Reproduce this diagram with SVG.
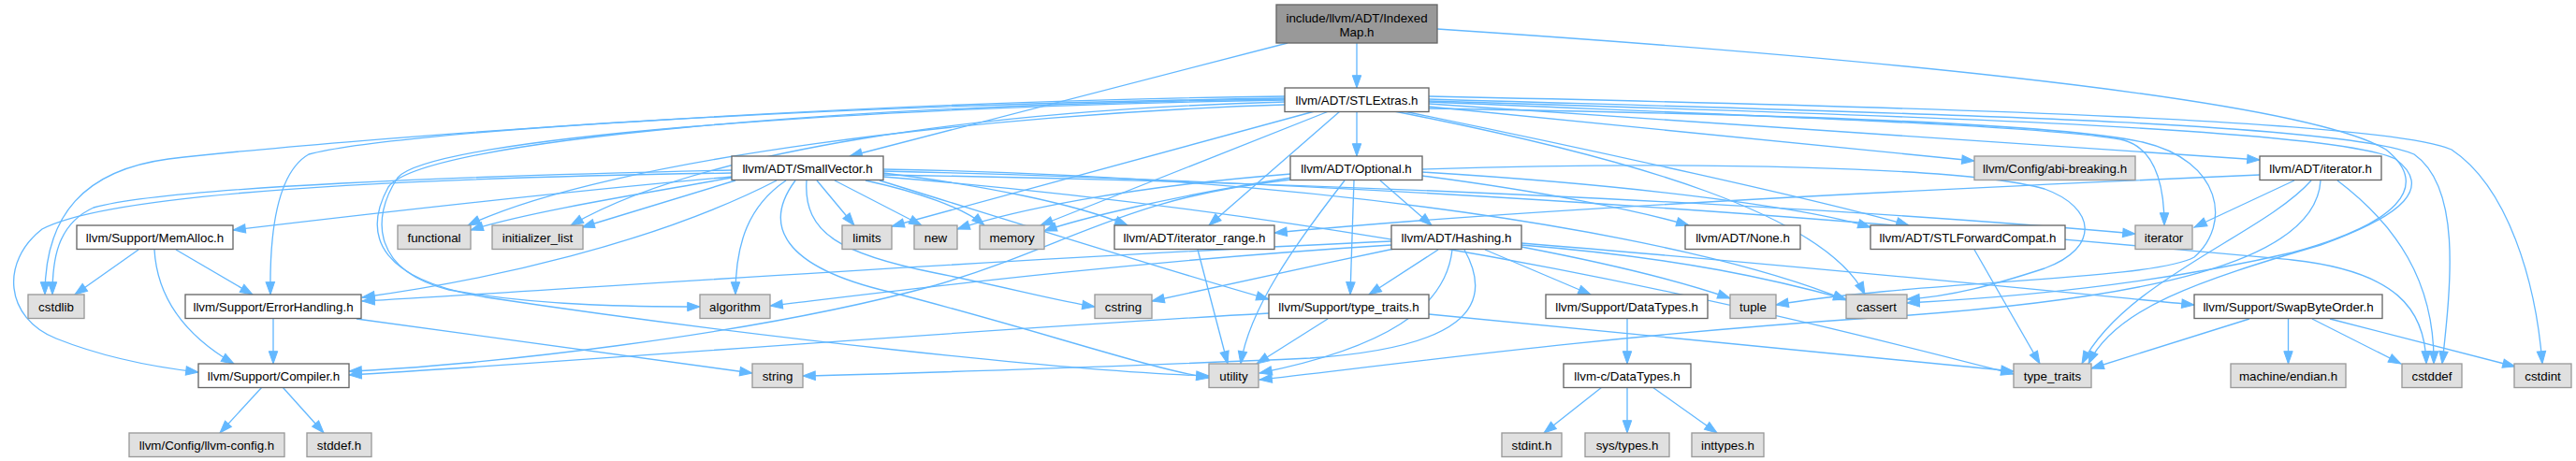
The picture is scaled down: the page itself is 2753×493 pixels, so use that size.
<svg xmlns="http://www.w3.org/2000/svg" width="2753" height="493" viewBox="0 0 2753 493">
<defs>
<marker id="a" markerUnits="userSpaceOnUse" markerWidth="16" markerHeight="12" refX="13.3" refY="0" viewBox="0 -6 16 12" orient="auto" overflow="visible">
<path d="M0,-4.7 L13.3,0 L0,4.7 Z" fill="#63b8ff" stroke="#63b8ff" stroke-width="1"/>
</marker>
</defs>
<style>
.e path{fill:none;stroke:#63b8ff;stroke-width:1.33;marker-end:url(#a)}
.w rect{fill:#ffffff;stroke:#666666;stroke-width:1.33}
.g rect{fill:#e0e0e0;stroke:#999999;stroke-width:1.33}
.r rect{fill:#999999;stroke:#666666;stroke-width:1.33}
text{font-family:"Liberation Sans",Arial,Helvetica,sans-serif;font-size:13.33px;fill:#000;text-anchor:middle}
</style>
<rect width="2753" height="493" fill="#ffffff"/>
<g class="e" id="edges">
<path d="M1450,46 L1450,94"/>
<path d="M1376,46 L908,167"/>
<path d="M1536,31 C1900,55 2450,100 2550,160 C2600,200 2560,240 2450,270 C2300,305 2150,318 2038,324"/>
<path d="M1450,119 L1450,167"/>
<path d="M1432,119 L1292,241"/>
<path d="M1420,119 L1112,241"/>
<path d="M1405,119 L953,242"/>
<path d="M1527,114 L2110,172"/>
<path d="M1527,111 L2415,171"/>
<path d="M1527,109 C1900,125 2200,135 2270,150 C2305,160 2313,200 2313,241"/>
<path d="M1500,119 C1700,160 1950,215 2040,241"/>
<path d="M1490,119 C1750,170 1950,230 1993,315"/>
<path d="M1527,106 C2000,120 2500,130 2580,165 C2630,200 2620,300 2610,389"/>
<path d="M1527,103 C2100,115 2550,130 2620,160 C2680,200 2710,300 2717,389"/>
<path d="M1527,108 C2100,125 2500,140 2560,170 C2600,200 2570,230 2480,262 C2350,300 2260,330 2232,389"/>
<path d="M1527,116 C1900,122 2200,132 2290,152 C2375,172 2385,240 2345,275 C2300,300 2050,300 1898,326"/>
<path d="M1373,103 C900,108 350,150 180,170 C90,182 48,230 48,315"/>
<path d="M1373,105 C900,112 420,140 330,165 C295,185 288,250 289,315"/>
<path d="M1373,112 C1050,122 650,170 500,241"/>
<path d="M1373,109 C1050,118 750,160 610,241"/>
<path d="M1373,107 C900,115 460,148 425,190 C395,235 400,290 480,310 C580,328 690,328 748,328"/>
<path d="M1373,106 C900,112 450,150 415,200 C385,255 410,300 520,318 C800,360 1150,398 1292,402"/>
<path d="M782,189 C600,205 400,228 249,246"/>
<path d="M782,182 C500,188 180,200 100,222 C60,240 56,280 56,315"/>
<path d="M782,185 C450,190 120,205 45,245 C0,280 5,340 60,362 C110,382 160,392 212,398"/>
<path d="M830,193 C700,260 520,300 387,318"/>
<path d="M840,193 C800,220 786,260 786,315"/>
<path d="M873,193 L913,241"/>
<path d="M892,193 L985,241"/>
<path d="M925,193 C980,205 1030,222 1052,241"/>
<path d="M944,185 C1050,198 1150,218 1205,241"/>
<path d="M940,193 C1060,230 1250,290 1356,320"/>
<path d="M862,193 C858,250 900,272 1000,292 C1080,308 1130,322 1170,328"/>
<path d="M850,193 C815,240 835,285 950,312 C1100,350 1230,395 1292,404"/>
<path d="M782,190 C700,205 570,225 503,246"/>
<path d="M786,193 L622,243"/>
<path d="M944,181 C1400,188 1800,250 1973,321"/>
<path d="M944,183 C1600,198 2200,255 2450,278 C2560,290 2592,330 2593,389"/>
<path d="M944,187 C1500,196 2000,225 2282,250"/>
<path d="M944,189 C1500,235 1900,335 2152,400"/>
<path d="M1475,193 L1530,241"/>
<path d="M1520,188 C1650,205 1750,225 1805,241"/>
<path d="M1520,184 C1750,198 1930,222 1999,243"/>
<path d="M1380,192 C1200,212 1150,260 1000,305 C800,360 500,392 373,397"/>
<path d="M1447,193 L1443,315"/>
<path d="M1520,181 C1800,172 2100,178 2185,202 C2240,222 2245,265 2185,287 C2130,305 2085,317 2038,320"/>
<path d="M1380,190 C1250,210 1150,235 1116,247"/>
<path d="M1380,186 C1200,200 1080,226 1023,245"/>
<path d="M1437,193 C1385,260 1335,330 1326,389"/>
<path d="M1280,267 L1312,389"/>
<path d="M1587,267 L1700,315"/>
<path d="M1537,267 L1463,315"/>
<path d="M1490,266 C1400,285 1300,307 1231,322"/>
<path d="M1487,258 C1100,275 600,310 387,322"/>
<path d="M1487,262 C1200,280 950,312 823,327"/>
<path d="M1565,267 C1600,330 1560,372 1400,383 C1200,392 950,400 858,402"/>
<path d="M1552,267 C1545,330 1480,372 1346,399"/>
<path d="M1626,260 C1900,282 2200,312 2345,326"/>
<path d="M1626,264 C1720,282 1800,302 1849,319"/>
<path d="M1626,262 C1800,276 1900,300 1973,320"/>
<path d="M1739,341 L1739,389"/>
<path d="M1712,414 L1650,463"/>
<path d="M1739,414 L1739,463"/>
<path d="M1766,414 L1835,463"/>
<path d="M2110,267 L2180,389"/>
<path d="M2452,193 L2345,243"/>
<path d="M2415,187 C2000,205 1600,226 1362,249"/>
<path d="M2498,193 C2560,240 2602,300 2601,389"/>
<path d="M2470,193 C2420,250 2270,300 2225,389"/>
<path d="M2480,193 C2475,280 2300,320 2000,340 C1700,360 1450,395 1346,406"/>
<path d="M2404,341 L2235,394"/>
<path d="M2445.5,341 L2445.5,389"/>
<path d="M2471,341 L2566,389"/>
<path d="M2490,341 L2688,392"/>
<path d="M1356,335 C1000,355 600,388 373,401"/>
<path d="M1527,336 L2152,397"/>
<path d="M1419,341 L1343,389"/>
<path d="M148,267 L80,315"/>
<path d="M188,267 L270,315"/>
<path d="M165,267 C168,320 200,360 250,389"/>
<path d="M292,341 L292,389"/>
<path d="M381,341 L804,399"/>
<path d="M280,414 L235,463"/>
<path d="M302,414 L346,463"/>
</g>
<g id="n_indexedmap" class="r"><rect x="1364" y="5" width="172" height="41"/><text x="1450" y="23.5">include/llvm/ADT/Indexed</text><text x="1450" y="38.5">Map.h</text></g>
<g id="n_stlextras" class="w"><rect x="1373" y="94" width="154" height="25.5"/><text x="1450" y="111.5">llvm/ADT/STLExtras.h</text></g>
<g id="n_smallvector" class="w"><rect x="782" y="167" width="162" height="25.5"/><text x="863" y="184.5">llvm/ADT/SmallVector.h</text></g>
<g id="n_optional" class="w"><rect x="1379" y="167" width="141" height="25.5"/><text x="1449.5" y="184.5">llvm/ADT/Optional.h</text></g>
<g id="n_abi" class="g"><rect x="2110" y="167" width="172" height="25.5"/><text x="2196" y="184.5">llvm/Config/abi-breaking.h</text></g>
<g id="n_iteratorh" class="w"><rect x="2415" y="167" width="130" height="25.5"/><text x="2480" y="184.5">llvm/ADT/iterator.h</text></g>
<g id="n_memalloc" class="w"><rect x="82" y="241" width="167" height="25.5"/><text x="165.5" y="258.5">llvm/Support/MemAlloc.h</text></g>
<g id="n_functional" class="g"><rect x="425" y="241" width="78" height="25.5"/><text x="464" y="258.5">functional</text></g>
<g id="n_initlist" class="g"><rect x="526" y="241" width="97" height="25.5"/><text x="574.5" y="258.5">initializer_list</text></g>
<g id="n_limits" class="g"><rect x="900" y="241" width="53" height="25.5"/><text x="926.5" y="258.5">limits</text></g>
<g id="n_new" class="g"><rect x="977" y="241" width="46" height="25.5"/><text x="1000" y="258.5">new</text></g>
<g id="n_memory" class="g"><rect x="1047" y="241" width="69" height="25.5"/><text x="1081.5" y="258.5">memory</text></g>
<g id="n_iterrange" class="w"><rect x="1191" y="241" width="171" height="25.5"/><text x="1276.5" y="258.5">llvm/ADT/iterator_range.h</text></g>
<g id="n_hashing" class="w"><rect x="1487" y="241" width="139" height="25.5"/><text x="1556.5" y="258.5">llvm/ADT/Hashing.h</text></g>
<g id="n_none" class="w"><rect x="1801" y="241" width="123" height="25.5"/><text x="1862.5" y="258.5">llvm/ADT/None.h</text></g>
<g id="n_stlfc" class="w"><rect x="1999" y="241" width="208" height="25.5"/><text x="2103" y="258.5">llvm/ADT/STLForwardCompat.h</text></g>
<g id="n_iterator" class="g"><rect x="2282" y="241" width="61" height="25.5"/><text x="2312.5" y="258.5">iterator</text></g>
<g id="n_cstdlib" class="g"><rect x="30" y="315" width="60" height="25.5"/><text x="60" y="332.5">cstdlib</text></g>
<g id="n_errhandling" class="w"><rect x="198" y="315" width="188" height="25.5"/><text x="292" y="332.5">llvm/Support/ErrorHandling.h</text></g>
<g id="n_algorithm" class="g"><rect x="748" y="315" width="75" height="25.5"/><text x="785.5" y="332.5">algorithm</text></g>
<g id="n_cstring" class="g"><rect x="1170" y="315" width="61" height="25.5"/><text x="1200.5" y="332.5">cstring</text></g>
<g id="n_supptt" class="w"><rect x="1356" y="315" width="171" height="25.5"/><text x="1441.5" y="332.5">llvm/Support/type_traits.h</text></g>
<g id="n_suppdt" class="w"><rect x="1652" y="315" width="173" height="25.5"/><text x="1738.5" y="332.5">llvm/Support/DataTypes.h</text></g>
<g id="n_tuple" class="g"><rect x="1849" y="315" width="49" height="25.5"/><text x="1873.5" y="332.5">tuple</text></g>
<g id="n_cassert" class="g"><rect x="1973" y="315" width="65" height="25.5"/><text x="2005.5" y="332.5">cassert</text></g>
<g id="n_swap" class="w"><rect x="2345" y="315" width="201" height="25.5"/><text x="2445.5" y="332.5">llvm/Support/SwapByteOrder.h</text></g>
<g id="n_compiler" class="w"><rect x="212" y="389" width="161" height="25.5"/><text x="292.5" y="406.5">llvm/Support/Compiler.h</text></g>
<g id="n_string" class="g"><rect x="804" y="389" width="54" height="25.5"/><text x="831" y="406.5">string</text></g>
<g id="n_utility" class="g"><rect x="1292" y="389" width="53" height="25.5"/><text x="1318.5" y="406.5">utility</text></g>
<g id="n_cdatatypes" class="w"><rect x="1671" y="389" width="136" height="25.5"/><text x="1739" y="406.5">llvm-c/DataTypes.h</text></g>
<g id="n_typetraits" class="g"><rect x="2152" y="389" width="83" height="25.5"/><text x="2193.5" y="406.5">type_traits</text></g>
<g id="n_endian" class="g"><rect x="2384" y="389" width="123" height="25.5"/><text x="2445.5" y="406.5">machine/endian.h</text></g>
<g id="n_cstddef" class="g"><rect x="2567" y="389" width="64" height="25.5"/><text x="2599" y="406.5">cstddef</text></g>
<g id="n_cstdint" class="g"><rect x="2687" y="389" width="61" height="25.5"/><text x="2717.5" y="406.5">cstdint</text></g>
<g id="n_llvmconfig" class="g"><rect x="138" y="463" width="166" height="25.5"/><text x="221" y="480.5">llvm/Config/llvm-config.h</text></g>
<g id="n_stddef" class="g"><rect x="328" y="463" width="69" height="25.5"/><text x="362.5" y="480.5">stddef.h</text></g>
<g id="n_stdint" class="g"><rect x="1605" y="463" width="64" height="25.5"/><text x="1637" y="480.5">stdint.h</text></g>
<g id="n_systypes" class="g"><rect x="1694" y="463" width="90" height="25.5"/><text x="1739" y="480.5">sys/types.h</text></g>
<g id="n_inttypes" class="g"><rect x="1808" y="463" width="77" height="25.5"/><text x="1846.5" y="480.5">inttypes.h</text></g>
</svg>
